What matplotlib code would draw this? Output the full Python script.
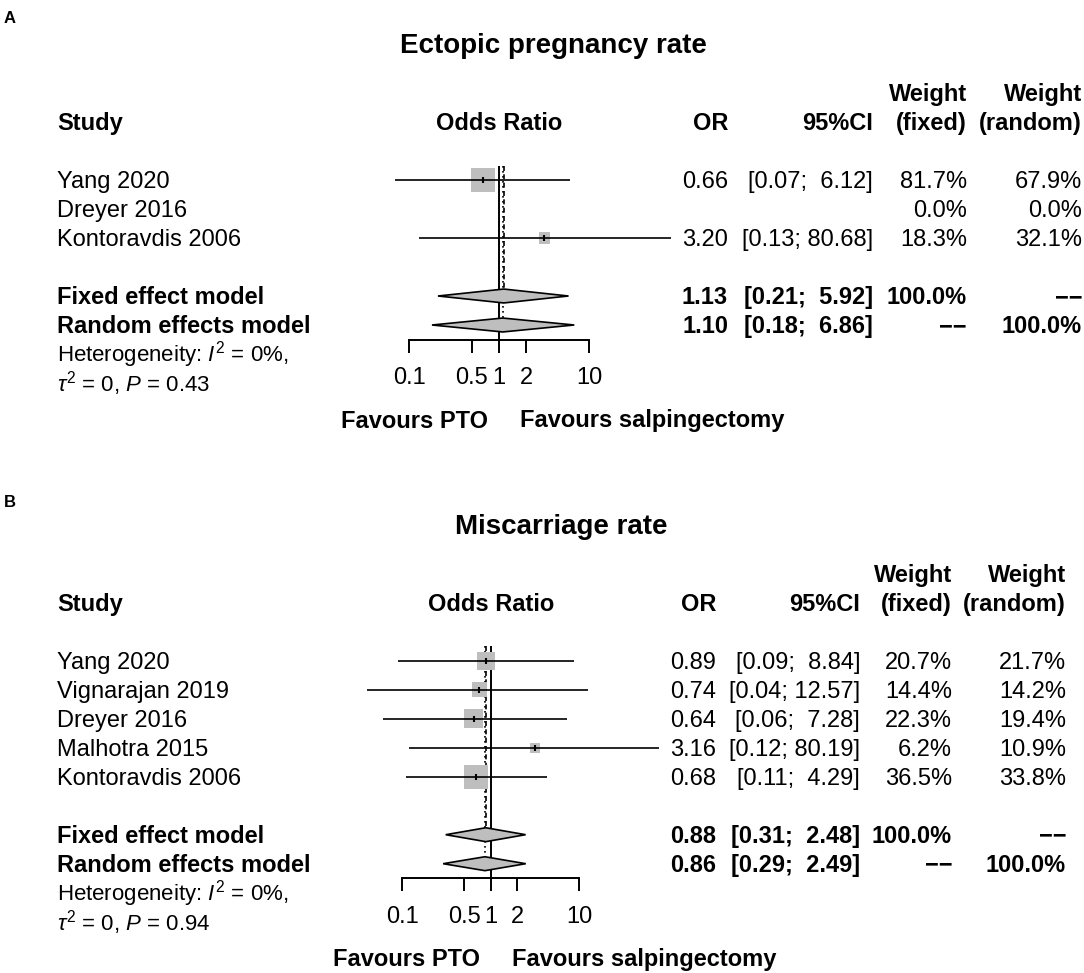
import numpy as np
import matplotlib.pyplot as plt
import matplotlib.transforms as mtransforms
from matplotlib.patches import Polygon
from matplotlib.ticker import NullLocator

plt.rcParams['font.family'] = 'Liberation Sans'
plt.rcParams['mathtext.fontset'] = 'custom'
plt.rcParams['mathtext.rm'] = 'Liberation Sans'
plt.rcParams['mathtext.it'] = 'Liberation Sans:italic'

# Panel A: ectopic pregnancy rate
A_study = ['Yang 2020', 'Dreyer 2016', 'Kontoravdis 2006']
A_or = [0.66, np.nan, 3.20]
A_lo = [0.07, np.nan, 0.13]
A_hi = [6.12, np.nan, 80.68]
A_wfix = [81.7, 0.0, 18.3]
A_wran = [67.9, 0.0, 32.1]
A_fixed = [1.13, 0.21, 5.92]
A_random = [1.10, 0.18, 6.86]
A_het = ['0%', '0', '0.43']

# Panel B: miscarriage rate
B_study = ['Yang 2020', 'Vignarajan 2019', 'Dreyer 2016', 'Malhotra 2015', 'Kontoravdis 2006']
B_or = [0.89, 0.74, 0.64, 3.16, 0.68]
B_lo = [0.09, 0.04, 0.06, 0.12, 0.11]
B_hi = [8.84, 12.57, 7.28, 80.19, 4.29]
B_wfix = [20.7, 14.4, 22.3, 6.2, 36.5]
B_wran = [21.7, 14.2, 19.4, 10.9, 33.8]
B_fixed = [0.88, 0.31, 2.48]
B_random = [0.86, 0.29, 2.49]
B_het = ['0%', '0', '0.94']

ticks = [0.1, 0.5, 1, 2, 10]
tick_labels = ['0.1', '0.5', '1', '2', '10']

W, H = 1084, 973
GRAY = '#bebebe'
FS = 17
DASH = '\u2212\u2212'
fig = plt.figure(figsize=(W / 100, H / 100), dpi=100)


def draw_panel(label, title, study, est, lo, hi, wfix, wran, fixed, random, het,
               x1, dec, row0, cols, title_x, label_y):
    rowh = 29.0
    n = len(study)
    r_fix, r_ran = n + 1, n + 2
    r_axis = r_ran + 0.5
    left, right = 300, 720
    top = row0 - 30
    bottom = row0 + rowh * r_axis + 40
    ax = fig.add_axes([left / W, 1 - bottom / H, (right - left) / W, (bottom - top) / H])
    ax.set_xscale('log')
    ax.set_xlim(10 ** ((left - x1) / dec), 10 ** ((right - x1) / dec))
    ax.set_ylim((bottom - row0) / rowh, (top - row0) / rowh)
    ax.patch.set_visible(False)
    for s in ['top', 'left', 'right']:
        ax.spines[s].set_visible(False)
    ax.spines['bottom'].set_position(('data', r_axis))
    ax.spines['bottom'].set_bounds(0.1, 10)
    ax.spines['bottom'].set_linewidth(1.4)
    ax.set_yticks([])
    ax.xaxis.set_minor_locator(NullLocator())
    ax.set_xticks(ticks)
    ax.set_xticklabels(tick_labels)
    ax.tick_params(axis='x', direction='out', length=9.4, width=1.4, labelsize=FS, pad=10.5)

    rows = np.arange(n)
    est = np.array(est)
    ok = ~np.isnan(est)
    wf = np.array(wfix)
    # reference and pooled-estimate lines
    ax.vlines(1, -0.5, r_axis, color='black', lw=1.4, zorder=1)
    ax.vlines(fixed[0], -0.5, r_fix - 0.24, color='black', lw=1.2, linestyles=(0, (3, 2)), zorder=1)
    ax.vlines(random[0], -0.5, r_ran - 0.24, color='black', lw=1.2, linestyles=(0, (1, 2)), zorder=1)
    # studies
    side = 24 * 0.72 * np.sqrt(wf / wf.max())
    ax.scatter(est[ok], rows[ok], s=side[ok] ** 2, marker='s', color=GRAY, lw=0, zorder=2)
    ax.hlines(rows[ok], np.array(lo)[ok], np.array(hi)[ok], color='black', lw=1.2, zorder=3)
    ax.plot(est[ok], rows[ok], ls='none', marker='|', ms=5, mew=1.5, color='black', zorder=4)
    # pooled diamonds
    for (m, l, h), r in [(fixed, r_fix), (random, r_ran)]:
        ax.add_patch(Polygon([(l, r), (m, r - 0.24), (h, r), (m, r + 0.24)], closed=True,
                             fc=GRAY, ec='black', lw=1.2, zorder=3))

    trans = mtransforms.blended_transform_factory(fig.transFigure, ax.transData)

    def txt(xpx, yoff, s, **kw):
        fig.text(xpx / W, yoff / rowh, s, transform=trans, va='baseline', **kw)

    c_or, c_ci, c_wf, c_wr = cols
    # panel label and title
    txt(4, label_y - row0, label, fontsize=12, fontweight='bold')
    txt(title_x, -127, title, fontsize=20, fontweight='bold', ha='center')
    # headers
    txt(57, -50, 'Study', fontsize=FS, fontweight='bold')
    txt(x1, -50, 'Odds Ratio', fontsize=FS, fontweight='bold', ha='center')
    txt(c_or, -50, 'OR', fontsize=FS, fontweight='bold', ha='right')
    txt(c_ci, -50, '95%CI', fontsize=FS, fontweight='bold', ha='right')
    for c, sub in [(c_wf, '(fixed)'), (c_wr, '(random)')]:
        txt(c, -79, 'Weight', fontsize=FS, fontweight='bold', ha='right')
        txt(c, -50, sub, fontsize=FS, fontweight='bold', ha='right')
    # study rows
    for i in range(n):
        y = i * rowh + 8
        txt(57, y, study[i], fontsize=FS)
        if ok[i]:
            txt(c_or, y, f'{est[i]:.2f}', fontsize=FS, ha='right')
            txt(c_ci, y, f'[{lo[i]:.2f}; {hi[i]:5.2f}]', fontsize=FS, ha='right')
        txt(c_wf, y, f'{wfix[i]:.1f}%', fontsize=FS, ha='right')
        txt(c_wr, y, f'{wran[i]:.1f}%', fontsize=FS, ha='right')
    # pooled rows
    for name, (m, l, h), r, wfs, wrs in [('Fixed effect model', fixed, r_fix, '100.0%', DASH),
                                        ('Random effects model', random, r_ran, DASH, '100.0%')]:
        y = r * rowh + 8
        txt(57, y, name, fontsize=FS, fontweight='bold')
        txt(c_or, y, f'{m:.2f}', fontsize=FS, fontweight='bold', ha='right')
        txt(c_ci, y, f'[{l:.2f}; {h:5.2f}]', fontsize=FS, fontweight='bold', ha='right')
        txt(c_wf, y, wfs, fontsize=FS, fontweight='bold', ha='right')
        txt(c_wr, y, wrs, fontsize=FS, fontweight='bold', ha='right')
    # heterogeneity
    y = r_ran * rowh
    txt(57, y + 37, f'Heterogeneity: $I^2$ = {het[0]},', fontsize=16)
    txt(57, y + 67, f'$\\tau^2$ = {het[1]}, $P$ = {het[2]}', fontsize=16)
    # favours labels
    ya = r_axis * rowh + 88
    txt(x1 - 11, ya, 'Favours PTO', fontsize=FS, fontweight='bold', ha='right')
    txt(x1 + 21, ya, 'Favours salpingectomy', fontsize=FS, fontweight='bold', ha='left')


draw_panel('A', 'Ectopic pregnancy rate', A_study, A_or, A_lo, A_hi, A_wfix, A_wran,
           A_fixed, A_random, A_het, x1=499, dec=90, row0=180,
           cols=(728, 873, 967, 1082), title_x=553, label_y=23)
draw_panel('B', 'Miscarriage rate', B_study, B_or, B_lo, B_hi, B_wfix, B_wran,
           B_fixed, B_random, B_het, x1=490.7, dec=88.5, row0=660.7,
           cols=(716, 860, 952, 1066), title_x=561, label_y=507)

fig.savefig('out.png', dpi=100)
